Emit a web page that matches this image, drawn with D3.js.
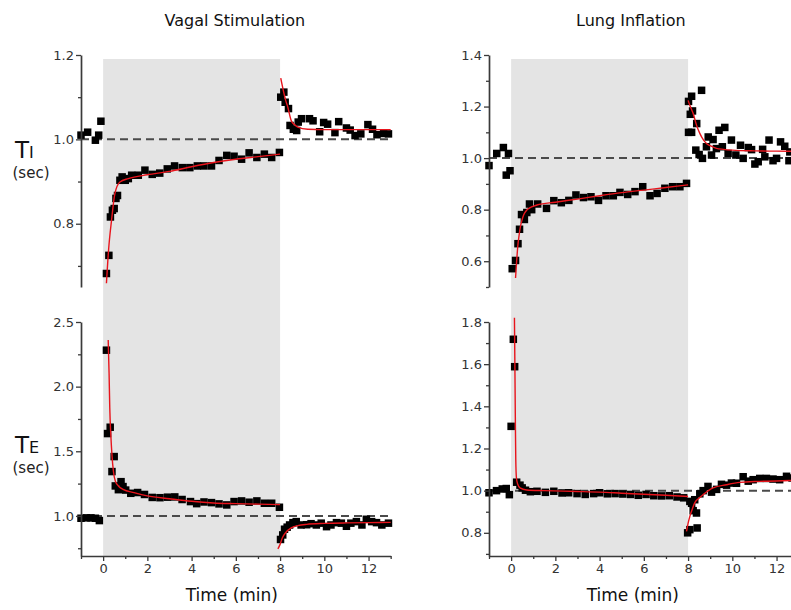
<!DOCTYPE html>
<html>
<head>
<meta charset="utf-8">
<script src="https://cdn.jsdelivr.net/npm/d3@7"></script>
<style>
  body { margin: 0; background: #fff; }
  svg { display: block; font-family: "DejaVu Sans", Verdana, sans-serif; }
</style>
</head>
<body>
<div id="chart"></div>
<script>
// DATA: [time (min), value (sec)]

// vagal stimulation, TI
const vagalTiPts = [
  [-1.0,1.01],[-0.7,1.017],[-0.35,0.998],[-0.2,1.01],[-0.1,1.043],
  [0.15,0.682],[0.26,0.725],[0.33,0.816],[0.42,0.832],[0.5,0.836],[0.58,0.86],[0.65,0.867],
  [0.76,0.903],[0.86,0.911],[1.0,0.903],[1.14,0.907],[1.29,0.915],[1.59,0.915],[1.89,0.927],
  [2.22,0.917],[2.56,0.92],[2.9,0.93],[3.23,0.937],[3.58,0.933],[3.92,0.933],[4.26,0.937],
  [4.56,0.937],[4.9,0.937],[5.24,0.95],[5.59,0.962],[5.92,0.96],[6.26,0.953],[6.6,0.968],
  [6.95,0.957],[7.29,0.965],[7.62,0.957],[7.97,0.969],
  [8.03,1.1],[8.17,1.112],[8.23,1.088],[8.38,1.073],[8.45,1.033],[8.6,1.024],[8.75,1.021],
  [8.82,1.041],[8.97,1.049],[9.33,1.049],[9.49,1.044],[9.79,1.018],[9.97,1.04],[10.15,1.036],
  [10.48,1.016],[10.65,1.042],[11.0,1.027],[11.17,1.022],[11.39,1.009],[11.65,1.013],
  [11.97,1.035],[12.18,1.024],[12.38,1.011],[12.68,1.014],[12.9,1.013]
];
const vagalTiFitOn = [
  [0.15,0.659],[0.25,0.74],[0.38,0.808],[0.53,0.871],[0.76,0.899],[1.14,0.907],[2,0.916],
  [3,0.924],[4,0.935],[5,0.945],[6,0.953],[7,0.959],[8,0.965]
];
const vagalTiFitOff = [
  [8.03,1.145],[8.15,1.115],[8.25,1.093],[8.35,1.076],[8.5,1.045],[8.65,1.035],[8.8,1.029],
  [9.25,1.024],[10,1.023],[13,1.023]
];

// vagal stimulation, TE
const vagalTePts = [
  [-1.0,0.982],[-0.75,0.985],[-0.55,0.985],[-0.35,0.982],[-0.17,0.964],
  [0.15,2.282],[0.2,1.637],[0.32,1.686],[0.4,1.343],[0.5,1.459],[0.55,1.232],[0.69,1.203],
  [0.81,1.265],[0.9,1.227],[1.02,1.2],[1.25,1.175],[1.56,1.181],[1.87,1.166],[2.22,1.143],
  [2.57,1.141],[2.91,1.145],[3.24,1.147],[3.57,1.127],[3.95,1.111],[4.23,1.095],[4.56,1.108],
  [4.9,1.103],[5.24,1.093],[5.59,1.085],[5.92,1.111],[6.26,1.116],[6.6,1.106],[6.95,1.116],
  [7.29,1.098],[7.62,1.098],[7.97,1.067],
  [8.02,0.818],[8.12,0.853],[8.2,0.897],[8.32,0.913],[8.43,0.93],[8.58,0.948],[8.73,0.956],
  [8.95,0.93],[9.2,0.932],[9.4,0.94],[9.64,0.93],[9.86,0.944],[10.1,0.917],[10.3,0.93],
  [10.55,0.948],[10.77,0.944],[11.0,0.92],[11.2,0.944],[11.45,0.956],[11.7,0.93],[11.9,0.974],
  [12.14,0.956],[12.36,0.948],[12.6,0.93],[12.9,0.944]
];
const vagalTeFitOn = [
  [0.23,2.36],[0.27,2.1],[0.3,1.84],[0.35,1.62],[0.4,1.47],[0.47,1.34],[0.55,1.27],[0.7,1.23],
  [0.9,1.205],[1.4,1.18],[2,1.155],[3,1.133],[4,1.113],[5,1.1],[6,1.095],[7,1.091],[8,1.087]
];
const vagalTeFitOff = [
  [7.9,0.745],[8.0,0.78],[8.1,0.83],[8.25,0.87],[8.5,0.907],[8.8,0.925],[9.2,0.935],
  [10,0.942],[11,0.946],[12,0.948],[13,0.95]
];

// lung inflation, TI
const lungTiPts = [
  [-1.0,0.971],[-0.65,1.018],[-0.35,1.041],[-0.12,1.018],[-0.22,0.934],[-0.05,0.951],
  [0.05,0.571],[0.2,0.603],[0.31,0.668],[0.38,0.724],[0.47,0.781],[0.6,0.762],[0.71,0.789],
  [0.83,0.822],[0.93,0.8],[1.2,0.822],[1.6,0.805],[1.93,0.835],[2.27,0.827],[2.61,0.836],
  [2.93,0.857],[3.27,0.847],[3.61,0.85],[3.95,0.836],[4.29,0.854],[4.62,0.854],[4.92,0.867],
  [5.27,0.859],[5.6,0.87],[5.95,0.889],[6.28,0.854],[6.6,0.863],[6.95,0.883],[7.3,0.889],
  [7.63,0.889],[7.93,0.902],
  [8.02,1.1],[8.02,1.22],[8.1,1.17],[8.16,1.24],[8.2,1.183],[8.16,1.1],[8.35,1.031],[8.39,1.134],
  [8.5,1.014],[8.61,1.263],[8.65,0.999],[8.83,1.044],[8.91,1.082],[9.06,1.012],[9.13,1.072],
  [9.28,1.037],[9.4,1.108],[9.55,1.044],[9.66,1.119],[9.81,1.018],[9.96,1.07],[10.16,1.012],
  [10.37,1.05],[10.49,0.999],[10.72,1.041],[10.87,1.033],[11.02,0.977],[11.17,0.986],
  [11.37,1.034],[11.47,1.005],[11.66,1.07],[11.84,0.99],[12.0,0.999],[12.18,1.063],
  [12.37,1.046],[12.56,0.99],[12.6,1.024]
];
const lungTiFitOn = [
  [0.2,0.535],[0.25,0.6],[0.3,0.657],[0.36,0.7],[0.42,0.734],[0.5,0.762],[0.57,0.78],[0.7,0.798],
  [0.8,0.805],[1.17,0.818],[2,0.829],[3,0.841],[4,0.854],[5,0.866],[6,0.876],[7,0.886],[8,0.896]
];
const lungTiFitOff = [
  [8.0,1.224],[8.1,1.2],[8.23,1.173],[8.38,1.128],[8.53,1.096],[8.7,1.07],[8.83,1.057],
  [9.0,1.048],[9.28,1.038],[9.6,1.034],[10,1.031],[11,1.028],[12,1.027],[13,1.026]
];

// lung inflation, TE
const lungTePts = [
  [-1.0,0.99],[-0.66,1.0],[-0.4,1.008],[-0.22,1.01],[-0.08,0.981],
  [0.0,1.305],[0.1,1.718],[0.16,1.588],[0.25,1.04],[0.4,1.026],[0.5,1.013],[0.65,1.002],
  [0.87,0.995],[1.17,0.997],[1.55,0.992],[1.93,0.997],[2.3,0.989],[2.6,0.99],[2.98,0.986],
  [3.35,0.982],[3.73,0.986],[4.0,0.99],[4.35,0.985],[4.7,0.986],[5.05,0.984],[5.4,0.982],
  [5.75,0.978],[6.1,0.982],[6.45,0.976],[6.8,0.975],[7.15,0.976],[7.5,0.97],[7.8,0.966],
  [7.98,0.8],[8.08,0.815],[8.41,0.823],[8.08,0.949],[8.16,0.94],[8.23,0.905],[8.3,0.957],
  [8.38,0.894],[8.53,0.985],[8.68,1.0],[8.9,1.02],[9.06,0.993],[9.29,1.006],[9.51,1.03],
  [9.74,1.026],[9.96,1.036],[10.19,1.035],[10.49,1.066],[10.72,1.045],[10.94,1.052],
  [11.24,1.058],[11.54,1.058],[11.84,1.055],[12.14,1.052],[12.45,1.068],[12.7,1.06]
];
const lungTeFitOn = [
  [0.15,1.82],[0.17,1.6],[0.19,1.35],[0.21,1.15],[0.24,1.06],[0.3,1.03],[0.4,1.013],[0.7,1.003],
  [1.5,1.0],[3,0.996],[4,0.993],[5,0.988],[6,0.983],[7,0.978],[8,0.972]
];
const lungTeFitOff = [
  [7.93,0.807],[8.0,0.845],[8.08,0.878],[8.2,0.915],[8.3,0.942],[8.5,0.965],[8.68,0.981],
  [9.13,1.013],[9.74,1.028],[10.34,1.039],[11.24,1.044],[12.6,1.048],[13,1.049]
];

// axis ticks and labels
const timeDomain = [-1, 13];
const timeTicks = [0, 2, 4, 6, 8, 10, 12];
const timeMinor = [-1, 1, 3, 5, 7, 9, 11, 13];
const stimWindow = [0, 8];
const titles = ["Vagal Stimulation", "Lung Inflation"];

const vagalTiDomain = [0.65, 1.2], vagalTiTicks = [0.8, 1.0, 1.2], vagalTiMinor = [0.7, 0.9, 1.1];
const vagalTeDomain = [0.69, 2.5], vagalTeTicks = [1.0, 1.5, 2.0, 2.5], vagalTeMinor = [0.75, 1.25, 1.75, 2.25];
const lungTiDomain = [0.5, 1.4], lungTiTicks = [0.6, 0.8, 1.0, 1.2, 1.4], lungTiMinor = [0.5, 0.7, 0.9, 1.1, 1.3];
const lungTeDomain = [0.69, 1.8], lungTeTicks = [0.8, 1.0, 1.2, 1.4, 1.6, 1.8], lungTeMinor = [0.7, 0.9, 1.1, 1.3, 1.5, 1.7];

// LAYOUT
const W = 791, H = 610;
const axisClr = "#3a3a3a";
const fitClr = "#e8141c";
const shadeClr = "#e4e4e4";

const svg = d3.select("#chart").append("svg")
  .attr("width", W)
  .attr("height", H);

const topRange = [287, 55];
const botRange = [556, 322];
const shadeTop = 59;

function makePanel(x, yDomain, yRange, ticks, minor, pts, fits, bottom) {
  const y = d3.scaleLinear().domain(yDomain).range(yRange);
  const g = svg.append("g");

  // reference line at 1.0
  g.append("line")
    .attr("x1", x(timeDomain[0])).attr("x2", x(timeDomain[1]))
    .attr("y1", y(1)).attr("y2", y(1))
    .attr("stroke", "#4a4a4a")
    .attr("stroke-width", 2)
    .attr("stroke-dasharray", "8,5");

  // data squares
  const s = 7.5;
  g.selectAll("rect.pt")
    .data(pts)
    .enter()
    .append("rect")
    .attr("class", "pt")
    .attr("x", (d) => x(d[0]) - s / 2)
    .attr("y", (d) => y(d[1]) - s / 2)
    .attr("width", s)
    .attr("height", s)
    .attr("fill", "#000");

  // fit curves
  const line = d3.line()
    .x((d) => x(d[0]))
    .y((d) => y(d[1]))
    .curve(d3.curveMonotoneX);
  fits.forEach((f) => {
    g.append("path")
      .attr("d", line(f))
      .attr("fill", "none")
      .attr("stroke", fitClr)
      .attr("stroke-width", 1.4);
  });

  // y axis
  g.append("g")
    .attr("transform", "translate(" + x(timeDomain[0]) + ",0)")
    .call(d3.axisLeft(y).tickValues(ticks).tickSize(5).tickSizeOuter(0)
      .tickPadding(2).tickFormat(d3.format(".1f")));
  g.append("g")
    .attr("transform", "translate(" + x(timeDomain[0]) + ",0)")
    .call(d3.axisLeft(y).tickValues(minor).tickSize(3).tickFormat(""))
    .call((a) => a.select(".domain").remove());

  if (bottom) {
    g.append("g")
      .attr("transform", "translate(0," + yRange[0] + ")")
      .call(d3.axisBottom(x).tickValues(timeTicks).tickSize(5).tickSizeOuter(0).tickPadding(3));
    g.append("g")
      .attr("transform", "translate(0," + yRange[0] + ")")
      .call(d3.axisBottom(x).tickValues(timeMinor).tickSize(3).tickFormat(""))
      .call((a) => a.select(".domain").remove());
  }
  return y;
}

const columns = [
  { x0: 81, top: [vagalTiDomain, vagalTiTicks, vagalTiMinor, vagalTiPts, [vagalTiFitOn, vagalTiFitOff]],
    bot: [vagalTeDomain, vagalTeTicks, vagalTeMinor, vagalTePts, [vagalTeFitOn, vagalTeFitOff]] },
  { x0: 489, top: [lungTiDomain, lungTiTicks, lungTiMinor, lungTiPts, [lungTiFitOn, lungTiFitOff]],
    bot: [lungTeDomain, lungTeTicks, lungTeMinor, lungTePts, [lungTeFitOn, lungTeFitOff]] }
];

columns.forEach((c, i) => {
  const x = d3.scaleLinear().domain(timeDomain).range([c.x0, c.x0 + 22.12 * (timeDomain[1] - timeDomain[0])]);

  // stimulation shading behind both panels
  svg.append("rect")
    .attr("x", x(stimWindow[0]))
    .attr("y", shadeTop)
    .attr("width", x(stimWindow[1]) - x(stimWindow[0]))
    .attr("height", botRange[0] - shadeTop)
    .attr("fill", shadeClr);

  makePanel(x, c.top[0], topRange, c.top[1], c.top[2], c.top[3], c.top[4], false);
  makePanel(x, c.bot[0], botRange, c.bot[1], c.bot[2], c.bot[3], c.bot[4], true);

  const mid = (x(-1) + x(13)) / 2 - 1;
  svg.append("text")
    .attr("x", i === 0 ? mid : mid - 12)
    .attr("y", 26)
    .attr("text-anchor", "middle")
    .attr("font-size", 16)
    .attr("fill", "#111")
    .text(titles[i]);

  svg.append("text")
    .attr("x", i === 0 ? mid - 3 : mid - 10)
    .attr("y", 601)
    .attr("text-anchor", "middle")
    .attr("font-size", 17)
    .attr("fill", "#111")
    .text("Time (min)");
});

// axis styling
svg.selectAll(".domain").attr("stroke", axisClr).attr("stroke-width", 1.7);
svg.selectAll(".tick line").attr("stroke", axisClr).attr("stroke-width", 1.3);
svg.selectAll(".tick text")
  .attr("fill", "#333")
  .style("font-size", "13px")
  .style("font-family", "DejaVu Sans, Verdana, sans-serif");

// row labels
function rowLabel(sub, yBase) {
  const t = svg.append("text")
    .attr("x", 15)
    .attr("y", yBase)
    .attr("fill", "#111");
  t.append("tspan").attr("font-size", 23).text("T");
  t.append("tspan").attr("font-size", 16).text(sub);
  svg.append("text")
    .attr("x", 31)
    .attr("y", yBase + 20)
    .attr("text-anchor", "middle")
    .attr("font-size", 15)
    .attr("fill", "#222")
    .text("(sec)");
}
rowLabel("I", 158);
rowLabel("E", 453);
</script>
</body>
</html>
